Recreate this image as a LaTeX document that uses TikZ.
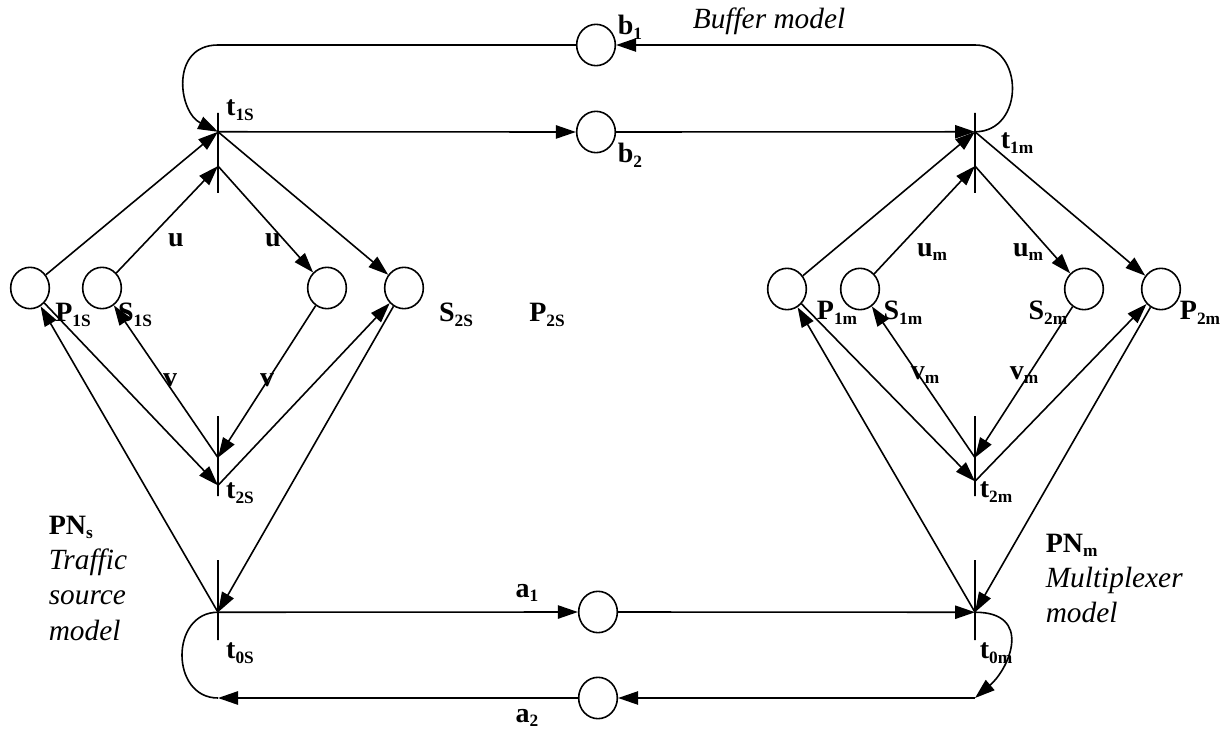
\documentclass[tikz,border=0pt]{standalone}
\usepackage{fontspec}
\setmainfont{Liberation Serif}
\usetikzlibrary{arrows.meta,shapes.geometric,calc}
\newcommand{\lsub}[1]{\raisebox{-3.5pt}{\fontsize{13}{14}\selectfont #1}}

\begin{document}
\begin{tikzpicture}[x=0.75pt,y=-0.75pt,line width=1.2pt,>={Triangle[length=15pt,width=10pt]},
  place/.style={draw,ellipse,minimum width=29pt,minimum height=31pt,inner sep=0pt},
  trans/.style={draw,rectangle,minimum width=0pt,minimum height=60pt,inner sep=0pt},
  lbl/.style={font=\fontsize{21}{25}\selectfont\bfseries,inner sep=0pt},
  note/.style={font=\fontsize{22}{26.5}\selectfont\itshape,align=left,inner sep=0pt}]
\useasboundingbox (0,0) rectangle (1225,731);
% buffer and link places
\node[place] (b1) at (596,45) {};
\node[place] (b2) at (596,132) {};
\node[place] (a1) at (598,612) {};
\node[place] (a2) at (598,698) {};
% traffic source net
\node[place] (p1s) at (30,288) {};
\node[place] (s1s) at (102,288) {};
\node[place] (s2s) at (327,288) {};
\node[place] (p2s) at (404,288) {};
\node[trans] (t1s) at (218,153) {};
\node[trans] (t2s) at (218,456) {};
\node[trans] (t0s) at (218,600) {};
% multiplexer net
\node[place] (p1m) at (787,289) {};
\node[place] (s1m) at (860,289) {};
\node[place] (s2m) at (1084,289) {};
\node[place] (p2m) at (1161,289) {};
\node[trans] (t1m) at (975,153) {};
\node[trans] (t2m) at (975,456) {};
\node[trans] (t0m) at (975,600) {};
% arc ends on the bars
\foreach \t/\f/\g in {t1s/.24/.66,t1m/.24/.66,t2s/.52/.86,t2m/.52/.81,t0s/.65/.65,t0m/.65/.65} {
  \coordinate (\t-hi) at ($(\t.north)!\f!(\t.south)$);
  \coordinate (\t-lo) at ($(\t.north)!\g!(\t.south)$);
}
\coordinate (tl) at (t1s.center |- b1.center);
\coordinate (tr) at (t1m.center |- b1.center);
\coordinate (bl) at (t0s.center |- a2.center);
\coordinate (br) at (t0m.center |- a2.center);

\draw[->] (p1s)--(t1s-hi);
\draw[->] (s1s)--(t1s-lo);
\draw[->] (t1s-lo)--(s2s);
\draw[->] (t1s-hi)--(p2s);
\draw[->] (s2s)--(t2s-hi);
\draw[->] (t2s-hi)--(s1s);
\draw[->] (p1s)--(t2s-lo);
\draw[->] (t2s-lo)--(p2s);
\draw[->] (t0s-hi)--(p1s);
\draw[->] (p2s)--(t0s-hi);

\draw[->] (p1m)--(t1m-hi);
\draw[->] (s1m)--(t1m-lo);
\draw[->] (t1m-lo)--(s2m);
\draw[->] (t1m-hi)--(p2m);
\draw[->] (s2m)--(t2m-hi);
\draw[->] (t2m-hi)--(s1m);
\draw[->] (p1m)--(t2m-lo);
\draw[->] (t2m-lo)--(p2m);
\draw[->] (t0m-hi)--(p1m);
\draw[->] (p2m)--(t0m-hi);

\draw[->] (t1s-hi)--(b2);
\draw[->] (b2)--(t1m-hi);
\draw[->] (t0s-hi)--(a1);
\draw[->] (a1)--(t0m-hi);
\draw[->] (b1)--(tl) .. controls +(-48,0) and +(-40,-20) .. (t1s-hi);
\draw[->] (t1m-hi) .. controls +(50,0) and +(50,0) .. (tr)--(b1);
\draw (t0s-hi) .. controls +(-48,0) and +(-48,0) .. (bl);
\draw[->] (a2)--(bl);
\draw[->] (t0m-hi) .. controls +(58,0) and +(35,-30) .. (br);
\draw[->] (br)--(a2);

% labels
\node[lbl] (l-t1s) at (240,110) {t\lsub{1S}};
\node[lbl] (l-t2s) at (240,493) {t\lsub{2S}};
\node[lbl] (l-t0s) at (240,653) {t\lsub{0S}};
\node[lbl] (l-p1s) at (73,315) {P\lsub{1S}};
\node[lbl] (l-s1s) at (135,315) {S\lsub{1S}};
\node[lbl] (l-s2s) at (456,315) {S\lsub{2S}};
\node[lbl] (l-p2s) at (547,315) {P\lsub{2S}};
\node[lbl] (l-u1) at (176,240) {u};
\node[lbl] (l-u2) at (273,240) {u};
\node[lbl] (l-v1) at (170,380) {v};
\node[lbl] (l-v2) at (267,380) {v};
\node[lbl] (l-b1) at (630,27) {b\lsub{1}};
\node[lbl] (l-b2) at (630,155) {b\lsub{2}};
\node[lbl] (l-a1) at (527,593) {a\lsub{1}};
\node[lbl] (l-a2) at (527,718) {a\lsub{2}};
\node[lbl] (l-t1m) at (1017,143) {t\lsub{1m}};
\node[lbl] (l-t2m) at (996,492) {t\lsub{2m}};
\node[lbl] (l-t0m) at (996,653) {t\lsub{0m}};
\node[lbl] (l-p1m) at (837,313) {P\lsub{1m}};
\node[lbl] (l-s1m) at (903,313) {S\lsub{1m}};
\node[lbl] (l-s2m) at (1048,313) {S\lsub{2m}};
\node[lbl] (l-p2m) at (1200,313) {P\lsub{2m}};
\node[lbl] (l-um1) at (932,252) {u\lsub{m}};
\node[lbl] (l-um2) at (1028,252) {u\lsub{m}};
\node[lbl] (l-vm1) at (925,375) {v\lsub{m}};
\node[lbl] (l-vm2) at (1024,375) {v\lsub{m}};

\node[note] (buf) at (769,21) {Buffer model};
\node[note,anchor=north west] (pns) at (48,515) {{\upshape\bfseries\fontsize{21}{26.5}\selectfont PN\lsub{s}}\\Traffic\\source\\model};
\node[note,anchor=north west] (pnm) at (1045,533) {{\upshape\bfseries\fontsize{21}{26.5}\selectfont PN\lsub{m}}\\Multiplexer\\model};
\end{tikzpicture}
\end{document}
